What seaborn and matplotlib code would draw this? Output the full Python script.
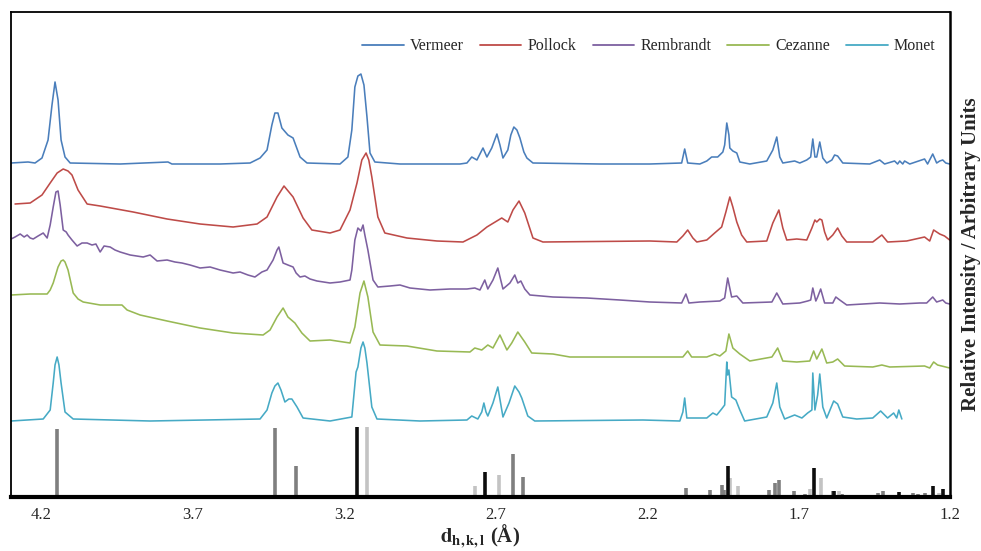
import numpy as np
import pandas as pd
import seaborn as sns
import matplotlib
matplotlib.use("Agg")
import matplotlib.pyplot as plt

# ---------------- data (d-spacing in Å, intensity in arbitrary units incl. stack offset) ----------------
vermeer_d = [4.300,4.244,4.221,4.198,4.178,4.165,4.155,4.145,4.135,4.122,4.105,3.940,3.782,3.769,3.610,
             3.511,3.478,3.455,3.439,3.429,3.419,3.406,3.386,3.369,3.346,3.323,3.214,3.188,3.175,3.165,
             3.155,3.145,3.135,3.125,3.115,3.099,3.016,2.818,2.795,2.779,2.762,2.742,2.729,2.713,2.696,
             2.686,2.676,2.660,2.650,2.640,2.630,2.620,2.607,2.597,2.577,2.356,2.191,2.086,2.076,2.066,
             2.026,2.003,1.987,1.967,1.950,1.944,1.937,1.930,1.927,1.917,1.904,1.894,1.861,1.805,1.785,
             1.772,1.762,1.752,1.713,1.696,1.673,1.660,1.653,1.646,1.640,1.630,1.620,1.607,1.590,1.581,
             1.571,1.554,1.465,1.432,1.416,1.383,1.373,1.366,1.356,1.350,1.333,1.284,1.274,1.257,1.244,
             1.234,1.224,1.214,1.201]
vermeer_i = [334,335,334,339,357,392,415,397,357,340,334,333,335,333,333,
             334,339,347,372,384,384,369,362,359,340,334,333,340,367,410,
             421,423,412,380,344,335,333,333,334,340,337,349,340,349,363,
             352,339,347,362,370,367,359,345,339,334,333,333,334,348,334,
             333,336,340,340,345,352,374,362,349,346,344,335,333,336,347,
             360,340,334,336,334,337,340,358,340,340,355,339,334,337,342,
             341,334,333,337,333,336,333,336,333,336,333,338,333,343,334,
             336,337,334,333]

pollock_d = [4.287,4.237,4.198,4.171,4.148,4.128,4.112,4.099,4.079,4.049,4.006,3.897,3.785,3.676,3.567,
             3.488,3.455,3.422,3.399,3.369,3.336,3.307,3.247,3.214,3.181,3.158,3.142,3.128,3.119,3.109,
             3.089,3.066,2.993,2.894,2.808,2.762,2.729,2.680,2.660,2.643,2.623,2.604,2.577,2.544,2.191,
             2.102,2.082,2.066,2.049,2.036,2.003,1.977,1.954,1.940,1.927,1.917,1.904,1.888,1.871,1.805,
             1.785,1.765,1.752,1.739,1.706,1.673,1.656,1.646,1.640,1.630,1.623,1.614,1.604,1.587,1.571,
             1.557,1.541,1.455,1.425,1.406,1.343,1.284,1.267,1.254,1.234,1.218,1.201]
pollock_i = [293,294,302,314,324,328,326,322,307,293,291,285,278,273,270,
             273,280,300,311,300,279,267,264,267,287,314,337,344,337,320,
             280,264,259,256,255,262,270,279,275,287,296,284,259,255,256,
             255,261,267,259,255,257,264,270,285,300,290,275,262,255,256,
             274,287,269,257,258,257,269,277,275,278,277,265,257,262,269,
             261,255,255,262,255,256,260,256,267,263,261,257]

rembrandt_d = [4.300,4.287,4.270,4.257,4.247,4.237,4.227,4.211,4.194,4.181,4.171,4.161,4.152,4.145,4.138,
               4.128,4.118,4.112,4.099,4.082,4.066,4.049,4.033,4.020,4.006,3.993,3.973,3.957,3.940,3.907,
               3.864,3.841,3.818,3.785,3.759,3.736,3.709,3.676,3.643,3.610,3.567,3.544,3.518,3.495,3.472,
               3.455,3.435,3.422,3.416,3.409,3.402,3.386,3.369,3.359,3.346,3.330,3.313,3.290,3.247,3.214,
               3.181,3.175,3.165,3.155,3.145,3.138,3.132,3.122,3.105,3.089,3.049,3.016,2.983,2.917,2.851,
               2.795,2.769,2.752,2.736,2.726,2.709,2.693,2.676,2.653,2.637,2.627,2.617,2.604,2.587,2.511,
               2.399,2.290,2.191,2.086,2.072,2.062,2.026,1.960,1.944,1.934,1.927,1.921,1.904,1.884,1.788,
               1.772,1.752,1.696,1.670,1.660,1.653,1.643,1.637,1.627,1.614,1.587,1.577,1.564,1.541,1.432,
               1.366,1.300,1.277,1.257,1.244,1.224,1.214,1.201]
rembrandt_i = [258,260,263,260,262,259,258,261,264,259,272,290,305,306,292,
               267,265,262,257,251,254,254,252,253,245,251,250,247,245,242,
               240,242,236,237,235,234,232,229,230,227,224,225,222,220,225,
               227,237,247,250,242,234,232,230,224,220,221,218,216,214,215,
               217,227,257,269,266,272,262,247,217,210,211,212,209,207,208,
               208,209,207,217,208,217,229,208,214,222,214,216,208,202,200,
               199,197,195,194,203,194,195,196,199,219,209,200,201,194,195,
               204,193,194,196,197,209,196,200,208,194,194,200,197,192,194,
               193,194,194,200,195,197,194,193]

cezanne_d = [4.300,4.237,4.181,4.171,4.161,4.145,4.135,4.128,4.122,4.112,4.095,4.079,4.062,4.006,3.947,
             3.934,3.917,3.874,3.785,3.676,3.567,3.468,3.445,3.422,3.402,3.386,3.363,3.340,3.313,3.247,
             3.181,3.165,3.148,3.135,3.122,3.105,3.082,2.993,2.894,2.785,2.769,2.746,2.726,2.709,2.686,
             2.663,2.647,2.627,2.604,2.581,2.511,2.455,2.191,2.082,2.066,2.053,2.003,1.977,1.960,1.940,
             1.930,1.917,1.894,1.861,1.788,1.769,1.752,1.706,1.663,1.650,1.640,1.623,1.607,1.587,1.571,
             1.548,1.455,1.425,1.399,1.284,1.267,1.254,1.241,1.201]
cezanne_i = [202,203,203,207,214,230,236,237,235,227,204,198,195,192,192,
             192,187,182,176,169,164,162,167,180,189,180,174,164,156,157,
             154,170,204,216,200,165,152,151,146,145,149,147,152,149,162,
             147,154,165,155,144,143,140,140,140,146,140,140,143,141,146,
             163,149,143,136,140,149,136,135,136,146,138,148,134,135,138,
             131,130,132,130,131,129,135,132,129]

monet_d = [4.300,4.194,4.171,4.161,4.155,4.148,4.142,4.135,4.122,4.095,3.841,3.478,3.455,3.439,3.429,
           3.419,3.409,3.396,3.383,3.373,3.356,3.336,3.247,3.175,3.161,3.155,3.145,3.138,3.132,3.125,
           3.109,3.092,2.950,2.795,2.779,2.759,2.746,2.739,2.732,2.726,2.709,2.693,2.676,2.656,2.637,
           2.623,2.614,2.594,2.571,2.214,2.092,2.082,2.076,2.069,2.003,1.983,1.970,1.954,1.944,1.937,
           1.934,1.930,1.921,1.907,1.894,1.878,1.805,1.785,1.772,1.762,1.746,1.713,1.689,1.670,1.656,
           1.653,1.646,1.637,1.630,1.620,1.607,1.584,1.571,1.554,1.508,1.455,1.429,1.406,1.386,1.376,
           1.369,1.359]
monet_i = [76,78,87,114,132,140,132,114,85,78,76,78,87,104,111,
           114,107,95,98,98,90,79,76,80,125,130,149,155,149,134,
           90,78,76,77,81,78,85,94,85,81,94,110,80,94,111,
           105,99,81,76,77,76,85,99,79,79,84,82,88,92,135,
           122,127,100,97,87,76,80,94,114,90,78,82,79,84,87,
           124,87,102,123,90,79,96,93,80,78,79,86,79,84,79,
           87,78]

series_names = ["Vermeer", "Pollock", "Rembrandt", "Cezanne", "Monet"]
series_colors = ["#4a7ebb", "#be4b48", "#7d60a0", "#98b954", "#46aac5"]

# reference stick patterns (d-spacing, relative height)
ref_gray_d = [4.148,3.429,3.386,3.359,2.927,2.643,2.610,2.396,2.250,2.234,2.201,2.072,1.993,1.980,1.954,
              1.947,1.798,1.779,1.765,1.716,1.680,1.587,1.557,1.538,1.521,1.501,1.439,1.422,1.323,1.307,1.284]
ref_gray_h = [68,69,1,31,1,43,20,1,1,1,1,9,7,2,12,
              7,7,14,17,6,3,6,3,1,1,1,4,6,4,3,4]
ref_black_d = [3.158,2.736,1.934,1.650,1.584,1.369,1.257,1.224]
ref_black_h = [70,25,31,29,6,5,11,8]
ref_light_d = [3.125,2.769,2.689,1.927,1.901,1.663,1.627,1.567,1.389,1.346,1.237,1.211]
ref_light_h = [70,11,22,19,11,8,19,6,1,2,4,2]

tick_values = [4.2, 3.7, 3.2, 2.7, 2.2, 1.7, 1.2]

# ---------------- build long table ----------------
frames = []
for name, d, i in zip(series_names,
                      [vermeer_d, pollock_d, rembrandt_d, cezanne_d, monet_d],
                      [vermeer_i, pollock_i, rembrandt_i, cezanne_i, monet_i]):
    frames.append(pd.DataFrame({"d": d, "I": i, "sample": name}))
df = pd.concat(frames, ignore_index=True)

# ---------------- plot ----------------
sns.set_theme(style="white")
plt.rcParams["font.family"] = ["Liberation Serif", "DejaVu Serif"]
plt.rcParams["mathtext.fontset"] = "stix"

fig = plt.figure(figsize=(9.81, 5.51), dpi=100)
ax = fig.add_axes([10.5 / 981, (551 - 497) / 551, (950 - 10.5) / 981, (497 - 12) / 551])

sns.lineplot(data=df, x="d", y="I", hue="sample", hue_order=series_names,
             palette=series_colors, estimator=None, sort=False, linewidth=1.15, ax=ax)

ax.vlines(ref_gray_d, 0, ref_gray_h, colors="#7f7f7f", linewidth=2.6)
ax.vlines(ref_light_d, 0, ref_light_h, colors="#c3c3c3", linewidth=2.6)
ax.vlines(ref_black_d, 0, ref_black_h, colors="#0d0d0d", linewidth=2.6)

ax.set_xlim(4.302, 1.2)
ax.set_ylim(0, 485)
ax.set_xticks(tick_values)
ax.set_xticklabels([f"{v:.1f}" for v in tick_values], fontsize=12)
ax.set_yticks([])
ax.tick_params(axis="x", length=0, pad=7)

for side, lw in [("left", 1.3), ("top", 1.3), ("right", 1.8), ("bottom", 3.0)]:
    ax.spines[side].set_visible(True)
    ax.spines[side].set_color("black")
    ax.spines[side].set_linewidth(lw)

ax.set_xlabel(r"$\mathbf{d_{h,k,l}}$ (Å)", fontsize=15, fontweight="bold", labelpad=0)
ax.yaxis.set_label_position("right")
ax.set_ylabel("Relative Intensity / Arbitrary Units", fontsize=15, fontweight="bold",
              rotation=90, labelpad=8)

leg = ax.legend(ncol=5, loc="upper right", bbox_to_anchor=(1.0, 0.975), frameon=False,
                fontsize=11.5, handlelength=2.6, columnspacing=1.0, handletextpad=0.4,
                title=None)
for h in leg.get_lines():
    h.set_linewidth(1.3)

fig.savefig("out.png", dpi=100)
